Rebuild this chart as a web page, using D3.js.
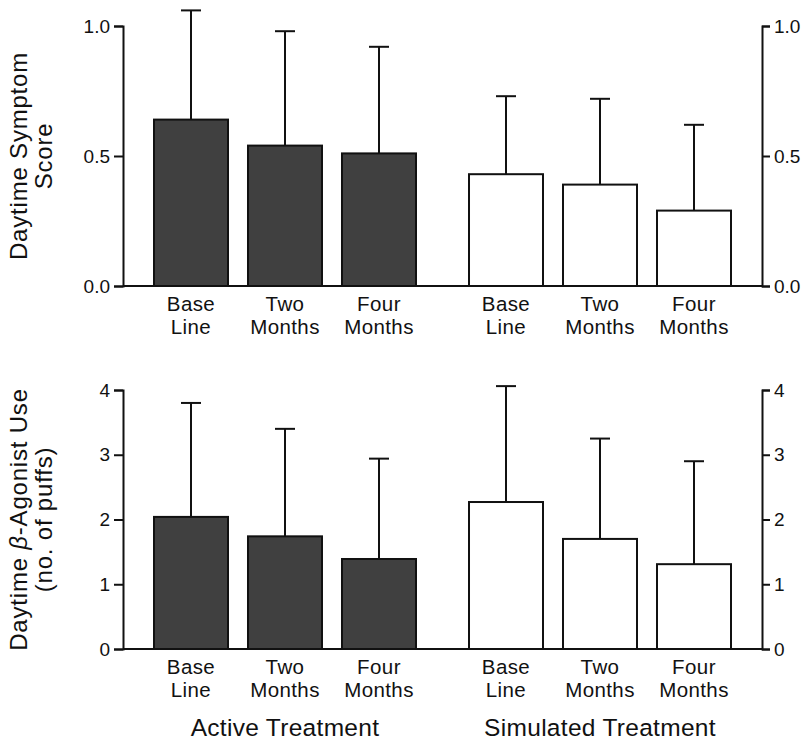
<!DOCTYPE html>
<meta charset="utf-8">
<style>
body { margin: 0; background: #fff; }
svg text { font-family: "Liberation Sans", Arial, Helvetica, sans-serif; fill: #111; }
</style>
<svg width="806" height="740"></svg>
<script src="https://d3js.org/d3.v7.min.js"></script>
<script>

// groups and time points
var groups = ["Active Treatment", "Simulated Treatment"];
var times = ["Base Line", "Two Months", "Four Months"];

// daytime symptom score: mean and mean + SD
var symptomMean = [0.64, 0.54, 0.51, 0.43, 0.39, 0.29];
var symptomTop  = [1.06, 0.98, 0.92, 0.73, 0.72, 0.62];

// beta-agonist use (puffs): mean and mean + SD
var puffMean = [2.04, 1.74, 1.39, 2.27, 1.70, 1.31];
var puffTop  = [3.80, 3.40, 2.94, 4.06, 3.25, 2.90];

var symptomTicks = [0, 0.5, 1.0];
var puffTicks = [0, 1, 2, 3, 4];

var svg = d3.select("svg");

var axisLeft = 123, axisRight = 762;

var x0 = d3.scaleBand()
    .domain(groups)
    .range([144, 741])
    .paddingInner(0.1048)
    .paddingOuter(0);

var x1 = d3.scaleBand()
    .domain(times)
    .range([0, x0.bandwidth()])
    .paddingInner(0.2128)
    .paddingOuter(0.1064);

function rows() {
  var out = [];
  groups.forEach(function(g, gi) {
    times.forEach(function(t, ti) {
      out.push({ group: g, time: t, i: gi * 3 + ti });
    });
  });
  return out;
}

function panel(top, bottom, domain, ticks, fmt, means, tops, title) {
  var y = d3.scaleLinear().domain(domain).range([bottom, top]);
  var g = svg.append("g");
  var data = rows();

  // bars
  g.selectAll("rect.bar")
    .data(data)
    .enter().append("rect")
      .attr("class", "bar")
      .attr("x", function(d) { return x0(d.group) + x1(d.time); })
      .attr("y", function(d) { return y(means[d.i]); })
      .attr("width", x1.bandwidth())
      .attr("height", function(d) { return y(0) - y(means[d.i]); })
      .attr("fill", function(d) { return d.group === groups[0] ? "#404040" : "#fff"; })
      .attr("stroke", "#111")
      .attr("stroke-width", 2);

  // error bars (upper only)
  var cx = function(d) { return x0(d.group) + x1(d.time) + x1.bandwidth() / 2; };
  g.selectAll("line.err")
    .data(data)
    .enter().append("line")
      .attr("class", "err")
      .attr("x1", cx).attr("x2", cx)
      .attr("y1", function(d) { return y(means[d.i]); })
      .attr("y2", function(d) { return y(tops[d.i]); })
      .attr("stroke", "#111").attr("stroke-width", 2);
  g.selectAll("line.cap")
    .data(data)
    .enter().append("line")
      .attr("class", "cap")
      .attr("x1", function(d) { return cx(d) - 10; })
      .attr("x2", function(d) { return cx(d) + 10; })
      .attr("y1", function(d) { return y(tops[d.i]); })
      .attr("y2", function(d) { return y(tops[d.i]); })
      .attr("stroke", "#111").attr("stroke-width", 2);

  // baseline
  g.append("line")
    .attr("x1", axisLeft).attr("x2", axisRight)
    .attr("y1", y(0)).attr("y2", y(0))
    .attr("stroke", "#111").attr("stroke-width", 2);

  var la = g.append("g")
    .attr("transform", "translate(" + axisLeft + ",0)")
    .call(d3.axisLeft(y).tickValues(ticks).tickFormat(fmt).tickSize(9).tickPadding(4));
  var ra = g.append("g")
    .attr("transform", "translate(" + axisRight + ",0)")
    .call(d3.axisRight(y).tickValues(ticks).tickFormat(fmt).tickSize(8).tickPadding(4));
  [la, ra].forEach(function(a) {
    a.attr("font-family", null);
    a.select(".domain").attr("stroke", "#111").attr("stroke-width", 2);
    a.selectAll(".tick line").attr("stroke", "#111").attr("stroke-width", 2);
    a.selectAll(".tick text").attr("font-size", 19).attr("fill", "#111");
  });

  // category labels
  var lab = g.selectAll("text.cat")
    .data(data)
    .enter().append("text")
      .attr("class", "cat")
      .attr("x", cx)
      .attr("y", y(0) + 25)
      .attr("text-anchor", "middle")
      .attr("font-size", 20.5)
      .attr("letter-spacing", 0.4);
  lab.each(function(d) {
    var w = d.time.split(" ");
    var t = d3.select(this);
    t.append("tspan").attr("x", cx(d)).text(w[0]);
    t.append("tspan").attr("x", cx(d)).attr("dy", 23).text(w[1]);
  });

  // y title
  var mid = (top + bottom) / 2;
  var tt = g.append("text")
    .attr("transform", "translate(27," + mid + ") rotate(-90)")
    .attr("text-anchor", "middle")
    .attr("font-size", 24)
    .attr("letter-spacing", 0.8);
  tt.append("tspan").attr("x", 0).attr("y", 0).html(title[0]);
  tt.append("tspan").attr("x", 0).attr("y", 25).text(title[1]);
  return y;
}

panel(26, 286, [0, 1], symptomTicks, d3.format(".1f"), symptomMean, symptomTop,
  ["Daytime Symptom", "Score"]);
panel(390, 649, [0, 4], puffTicks, d3.format("d"), puffMean, puffTop,
  ["Daytime <tspan font-style=\"italic\">β</tspan>-Agonist Use", "(no. of puffs)"]);

// group labels
svg.selectAll("text.grp")
  .data(groups)
  .enter().append("text")
    .attr("class", "grp")
    .attr("x", function(d) { return x0(d) + x0.bandwidth() / 2; })
    .attr("y", 736)
    .attr("text-anchor", "middle")
    .attr("font-size", 24.5)
    .attr("letter-spacing", 0.3)
    .text(function(d) { return d; });

</script>
